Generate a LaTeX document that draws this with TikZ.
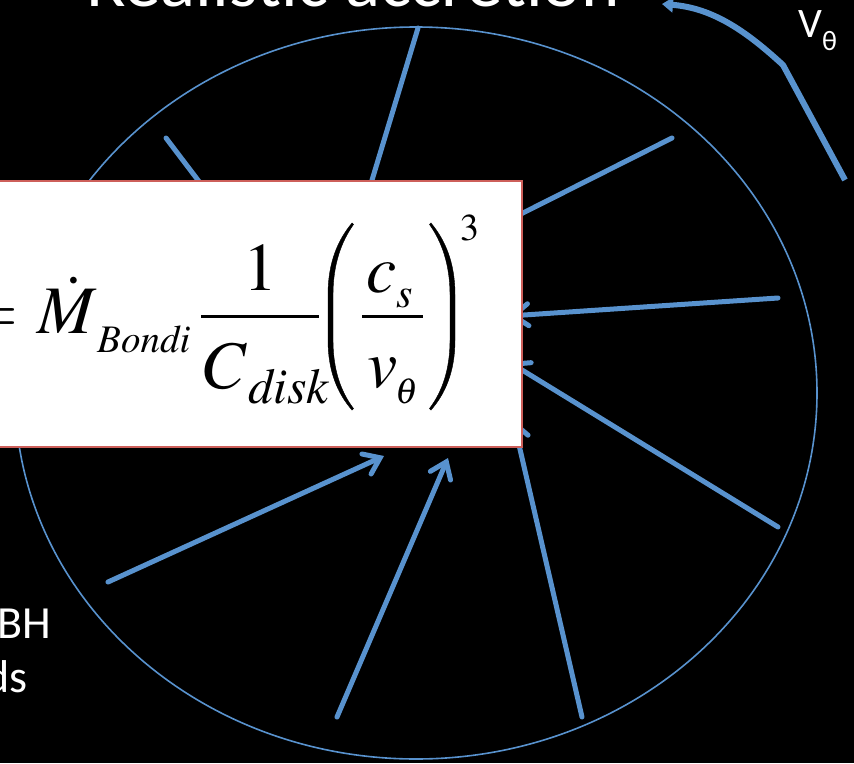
\documentclass[tikz,border=0pt]{standalone}
\usepackage{mathptmx}
\usepackage{fontspec}
\newfontfamily\carlitofont{Carlito}
\usetikzlibrary{arrows.meta,shapes.geometric}
\definecolor{rayblue}{RGB}{88,146,206}
\definecolor{boxred}{RGB}{205,95,90}
\newcommand\fsz[2]{\fontsize{#1}{#1}\selectfont #2}
\tikzset{
  ray/.style={draw=rayblue, line width=5pt, line cap=round},
  rayarrow/.style={ray, -{Straight Barb[length=15pt,width=22pt,line cap=round]}},
  rim/.style={draw=rayblue, line width=1.6pt},
  eqbox/.style={draw=boxred, line width=2pt, fill=white, inner sep=0pt},
  whitetext/.style={text=white, inner sep=0pt},
  eqpart/.style={inner sep=0pt, anchor=base west, text=black},
  fracbar/.style={draw=black, line width=3pt},
  parenshape/.style={fill=black, draw=black, line width=0.4pt},
}
\begin{document}
\begin{tikzpicture}[x=1pt,y=-1pt]
\useasboundingbox (0,0) rectangle (854,763);
\fill[black] (0,0) rectangle (854,763);
% title
\node[whitetext, anchor=base west, font=\carlitofont\fontsize{73}{80}\selectfont] (title) at (86,6) {Realistic accretion};
% rim
\node[rim, ellipse, minimum width=802pt, minimum height=732pt, inner sep=0pt] (rimnode) at (416,393) {};
% ray coordinates
\coordinate (a1) at (418,28);  \coordinate (b1) at (366,200);
\coordinate (a2) at (166,138); \coordinate (b2) at (210,196);
\coordinate (a3) at (672,138); \coordinate (b3) at (505,222);
\coordinate (a4) at (778,298); \coordinate (b4) at (509,316);
\coordinate (a5) at (778,527); \coordinate (b5) at (509,362);
\coordinate (a6) at (582,717); \coordinate (b6) at (513,419);
\coordinate (a7) at (337,717); \coordinate (b7) at (448,458);
\coordinate (a8) at (108,582); \coordinate (b8) at (384,456);
\draw[ray] (a1) -- (b1);
\draw[ray] (a2) -- (b2);
\draw[ray] (a3) -- (b3);
\draw[rayarrow] (a4) -- (b4);
\draw[rayarrow] (a5) -- (b5);
\draw[rayarrow] (a6) -- (b6);
\draw[rayarrow] (a7) -- (b7);
\draw[rayarrow] (a8) -- (b8);
% v_theta arrow
\coordinate (v1) at (845,180);
\coordinate (v2) at (783,65);
\coordinate (v3) at (662,4);
\draw[draw=rayblue, line width=6pt, -{Triangle[length=11pt,width=15pt]}] (v1) -- (v2) .. controls (745,30) and (712,8) .. (v3);
\node[whitetext, anchor=base west, font=\carlitofont\fontsize{42}{42}\selectfont] (vtheta) at (798,37) {V\raisebox{-13pt}{\fontsize{28}{28}\selectfont θ}};
% bottom-left text
\node[whitetext, anchor=base east, font=\carlitofont\fontsize{46}{46}\selectfont] (bh) at (51,638) {BH};
\node[whitetext, anchor=base east, font=\carlitofont\fontsize{46}{46}\selectfont] (ds) at (28,692) {ds};
% formula box
\node[eqbox, minimum width=542pt, minimum height=266pt] (box) at (251,314) {};
% formula pieces
\node[eqpart, anchor=base east] (eqsign) at (19,333) {\fsz{68}{$=$}};
\node[eqpart] (mdot) at (37,333) {\fsz{68}{$\dot{M}$}};
\node[eqpart] (bondi) at (97,352) {\fsz{39}{$\mathit{Bondi}$}};
\node[eqpart, anchor=base] (one) at (260,290) {\fsz{68}{$1$}};
\coordinate (f1l) at (201,316); \coordinate (f1r) at (319,316);
\draw[fracbar] (f1l) -- (f1r);
\node[eqpart] (cbig) at (204,388) {\fsz{68}{$C$}};
\node[eqpart] (disk) at (248,403) {\fsz{50}{$\mathit{disk}$}};
% large parentheses
\path[parenshape] (352,223) .. controls (338,240) and (328,262) .. (328,295) -- (328,340) .. controls (328,372) and (338,394) .. (352,410) -- (353.5,408.5) .. controls (341,392) and (333,370) .. (333,340) -- (333,295) .. controls (333,265) and (341,242) .. (353.5,224.5) -- cycle;
\path[parenshape] (431,223) .. controls (445,240) and (455,262) .. (455,295) -- (455,340) .. controls (455,372) and (445,394) .. (431,410) -- (429.5,408.5) .. controls (442,392) and (450,370) .. (450,340) -- (450,295) .. controls (450,265) and (442,242) .. (429.5,224.5) -- cycle;
\node[eqpart] (csmall) at (366,292) {\fsz{68}{$c$}};
\node[eqpart] (ssub) at (396,307) {\fsz{42}{$s$}};
\coordinate (f2l) at (362,316); \coordinate (f2r) at (423,316);
\draw[fracbar] (f2l) -- (f2r);
\node[eqpart] (vsmall) at (367,387) {\fsz{68}{$v$}};
\node[eqpart] (thsub) at (395,403) {\fsz{36}{$\theta$}};
\node[eqpart] (three) at (460,240) {\fsz{38}{$3$}};
\end{tikzpicture}
\end{document}
